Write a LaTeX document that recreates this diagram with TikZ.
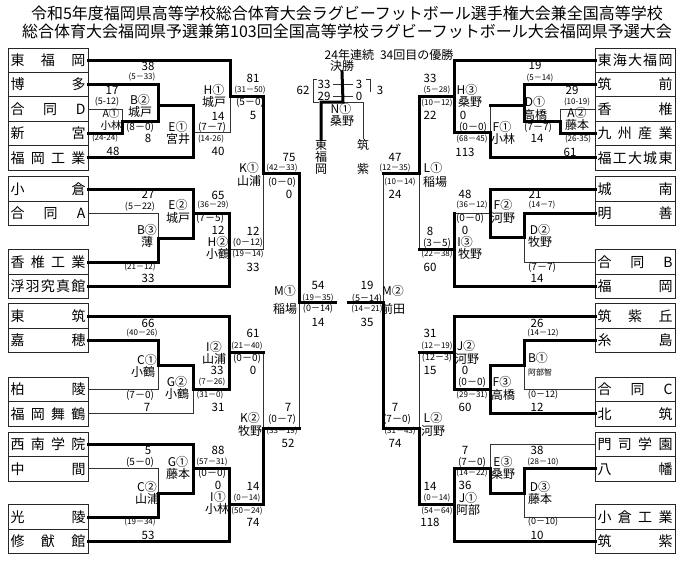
\documentclass[tikz,border=0pt]{standalone}
\usepackage{fontspec}
\setmainfont{Noto Sans CJK JP}
\usetikzlibrary{positioning}

\begin{document}
\begin{tikzpicture}[x=1pt, y=-1pt, node distance=0pt,
team/.style={rectangle, draw=black!85, fill=white, line width=0.9pt, minimum width=80pt, minimum height=24.4pt, inner sep=0pt, outer sep=0pt, font=\fontsize{14}{14}\selectfont},
win/.style={line width=3pt, line cap=rect},
lose/.style={line width=0.9pt, draw=black!80},
sc/.style={inner sep=0pt, font=\fontsize{11.5}{12}\selectfont},
hb/.style={inner sep=0pt, font=\fontsize{10}{10}\selectfont},
hm/.style={inner sep=0pt, font=\fontsize{9}{9}\selectfont},
hs/.style={inner sep=0pt, font=\fontsize{8}{8}\selectfont},
lb/.style={inner sep=0pt, font=\fontsize{12}{12}\selectfont} ]
\useasboundingbox (0,0) rectangle (695,560);

\node[font=\fontsize{16}{18}\selectfont, align=center] (title) at (347,22) {令和5年度福岡県高等学校総合体育大会ラグビーフットボール選手権大会兼全国高等学校\\総合体育大会福岡県予選兼第103回全国高等学校ラグビーフットボール大会福岡県予選大会};

% match points
\coordinate (A1) at (122,121); \coordinate (B2) at (158,105); \coordinate (E1) at (193,132);
\coordinate (H1) at (230,96);  \coordinate (E2) at (193,213); \coordinate (B3) at (158,238);
\coordinate (H2) at (229,249); \coordinate (K1) at (263,173); \coordinate (C1) at (158,365);
\coordinate (G2) at (193,389); \coordinate (I2) at (229,352); \coordinate (G1) at (193,468);
\coordinate (C2) at (158,493); \coordinate (I1) at (229,504); \coordinate (K2) at (263,428);
\coordinate (M1) at (299,302); \coordinate (M1e) at (335,302);
\coordinate (A2) at (560,121); \coordinate (D1) at (524,105); \coordinate (F1) at (490,132);
\coordinate (H3) at (454,96);  \coordinate (F2) at (490,213); \coordinate (D2) at (524,237);
\coordinate (I3) at (454,249); \coordinate (L1) at (419,173); \coordinate (B1) at (524,365);
\coordinate (F3) at (490,389); \coordinate (J2) at (454,352); \coordinate (E3) at (490,468);
\coordinate (D3) at (524,493); \coordinate (J1) at (454,504); \coordinate (L2) at (419,428);
\coordinate (M2) at (383,302); \coordinate (M2e) at (348,302);
\coordinate (N1) at (343,102);

% left teams
\node[team] (l1) at (48,60.2) {\makebox[75pt]{東\hfill 福\hfill 岡}};
\node[team, below=of l1] (l2) {\makebox[75pt]{博\hfill 多}};
\node[team, below=of l2] (l3) {\makebox[75pt]{合\hfill 同\hfill D}};
\node[team, below=of l3] (l4) {\makebox[75pt]{新\hfill 宮}};
\node[team, below=of l4] (l5) {\makebox[75pt]{福\hfill 岡\hfill 工\hfill 業}};
\node[team] (l6) at (48,189) {\makebox[75pt]{小\hfill 倉}};
\node[team, below=of l6] (l7) {\makebox[75pt]{合\hfill 同\hfill A}};
\node[team] (l8) at (48,262) {\makebox[75pt]{香\hfill 椎\hfill 工\hfill 業}};
\node[team, below=of l8] (l9) {\makebox[75pt]{浮\hfill 羽\hfill 究\hfill 真\hfill 館}};
\node[team] (l10) at (48,316) {\makebox[75pt]{東\hfill 筑}};
\node[team, below=of l10] (l11) {\makebox[75pt]{嘉\hfill 穂}};
\node[team] (l12) at (48,389.5) {\makebox[75pt]{柏\hfill 陵}};
\node[team, below=of l12] (l13) {\makebox[75pt]{福\hfill 岡\hfill 舞\hfill 鶴}};
\node[team] (l14) at (48,444.5) {\makebox[75pt]{西\hfill 南\hfill 学\hfill 院}};
\node[team, below=of l14] (l15) {\makebox[75pt]{中\hfill 間}};
\node[team] (l16) at (48,517) {\makebox[75pt]{光\hfill 陵}};
\node[team, below=of l16] (l17) {\makebox[75pt]{修\hfill 猷\hfill 館}};

% right teams
\node[team] (r1) at (635,60.2) {\makebox[75pt]{東\hfill 海\hfill 大\hfill 福\hfill 岡}};
\node[team, below=of r1] (r2) {\makebox[75pt]{筑\hfill 前}};
\node[team, below=of r2] (r3) {\makebox[75pt]{香\hfill 椎}};
\node[team, below=of r3] (r4) {\makebox[75pt]{九\hfill 州\hfill 産\hfill 業}};
\node[team, below=of r4] (r5) {\makebox[75pt]{福\hfill 工\hfill 大\hfill 城\hfill 東}};
\node[team] (r6) at (635,189) {\makebox[75pt]{城\hfill 南}};
\node[team, below=of r6] (r7) {\makebox[75pt]{明\hfill 善}};
\node[team] (r8) at (635,262) {\makebox[75pt]{合\hfill 同\hfill B}};
\node[team, below=of r8] (r9) {\makebox[75pt]{福\hfill 岡}};
\node[team] (r10) at (635,316) {\makebox[75pt]{筑\hfill 紫\hfill 丘}};
\node[team, below=of r10] (r11) {\makebox[75pt]{糸\hfill 島}};
\node[team] (r12) at (635,389.5) {\makebox[75pt]{合\hfill 同\hfill C}};
\node[team, below=of r12] (r13) {\makebox[75pt]{北\hfill 筑}};
\node[team] (r14) at (635,444.5) {\makebox[75pt]{門\hfill 司\hfill 学\hfill 園}};
\node[team, below=of r14] (r15) {\makebox[75pt]{八\hfill 幡}};
\node[team] (r16) at (635,517) {\makebox[75pt]{小\hfill 倉\hfill 工\hfill 業}};
\node[team, below=of r16] (r17) {\makebox[75pt]{筑\hfill 紫}};

% final
\node[lb] (kes) at (342,66) {決勝};
\node[lb] (ren) at (389,55) {24年連続\hspace{6pt}34回目の優勝};
\node[lb, align=center] (fa) at (321,157) {東\\福\\岡};
\node[lb, align=center] (fb) at (363,157) {筑\\[12pt]紫};

% thin lines
\begin{scope}[lose]
\draw (l3.east) -| (A1);  \draw (E1) -| (H1);  \draw (l7.east) -| (B3);
\draw (H2) -| (K1);  \draw (l12.east) -| (C1);  \draw (l13.east) -| (G2);
\draw (I2 -| K2) -- (K2);  \draw (l15.east) -| (C2);  \draw (K2 -| M1) -- (M1);
\draw (r3.west) -| (A2);  \draw (D1 -| F1) -- (F1);  \draw (r8.west) -| (D2);
\draw (F2) -- (F2 -| I3);  \draw (I3 -| L1) -- (L1);  \draw (r12.west) -| (B1);
\draw (r14.west) -| (E3);  \draw (r16.west) -| (D3);  \draw (J2 -| L2) -- (L2);
\draw (L1 -| M2) -- (M2);
\draw (fb.north) -- (fb.north |- N1) -- (N1);
\draw (317,79) -- (313,79) -- (313,102) -- (319,102);
\draw (366,79) -- (370,79) -- (370,92);
\draw (333,84) -- (353,84);  \draw (333,96) -- (353,96);
\end{scope}

% thick lines
\begin{scope}[win]
\draw (l4.east) -| (A1);  \draw (A1) -| (B2);  \draw (l2.east) -| (B2);
\draw (B2) -| (E1);  \draw (l5.east) -| (E1);  \draw (l1.east) -| (H1);
\draw (H1) -| (K1);  \draw (K1) -| (M1);  \draw (M1) -- (M1e);
\draw (l6.east) -| (E2);  \draw (B3) -| (E2);  \draw (l8.east) -| (B3);
\draw (E2) -| (H2);  \draw (l9.east) -| (H2);
\draw (l11.east) -| (C1);  \draw (C1) -| (G2);  \draw (l10.east) -| (I2);
\draw (G2) -| (I2);  \draw (I2) -- (I2 -| K2);
\draw (l14.east) -| (G1);  \draw (C2) -| (G1);  \draw (l16.east) -| (C2);
\draw (G1) -| (I1);  \draw (l17.east) -| (I1);  \draw (I1) -| (K2);
\draw (K2) -- (K2 -| M1);
\draw (r4.west) -| (A2);  \draw (A2) -| (D1);  \draw (r2.west) -| (D1);
\draw (D1) -- (D1 -| F1);  \draw (r5.west) -| (F1);  \draw (F1) -| (H3);
\draw (r1.west) -| (H3);  \draw (H3) -| (L1);  \draw (L1) -- (L1 -| M2);
\draw (r6.west) -| (F2);  \draw (D2) -| (F2);  \draw (r7.west) -| (D2);
\draw (F2 -| I3) -- (I3);  \draw (r9.west) -| (I3);  \draw (I3) -- (I3 -| L1);
\draw (r11.west) -| (B1);  \draw (B1) -| (F3);  \draw (r13.west) -| (F3);
\draw (r10.west) -| (J2);  \draw (F3) -| (J2);  \draw (J2) -- (J2 -| L2);
\draw (r15.west) -| (D3);  \draw (D3) -| (E3);  \draw (E3) -| (J1);
\draw (r17.west) -| (J1);  \draw (J1) -| (L2);  \draw (L2) -| (M2);
\draw (M2) -- (M2e);
\draw (fa.north) -- (fa.north |- N1) -- (N1) -- (kes.south);
\end{scope}

% scores
\foreach \x/\y/\t [count=\i] in {148/66/38, 112/90/17, 148/138/8, 113/151/48, 218/116/14, 218/151/40,
  253/78/81, 253/115/5, 148/194/27, 218/195/65, 218/230/12, 148/278/33, 253/231/12, 253/267/33,
  289/157/75, 289/194/0, 318/285/54, 318/322/14, 148/323/66, 147/407/7, 217/370/33, 218/407/31,
  253/333/61, 253/370/0, 288/407/7, 288/443/52, 148/450/5, 218/450/88, 218/485/0, 148/535/53,
  253/486/14, 253/522/74,
  535/65/19, 572/90/29, 537/138/14, 570/152/61, 463/115/0, 465/152/113, 430/78/33, 430/115/22,
  395/157/47, 395/194/24, 535/194/21, 537/278/14, 465/194/48, 465/230/0, 430/231/8, 430/267/60,
  367/285/19, 367/322/35, 537/323/26, 537/407/12, 465/370/0, 465/407/60, 430/333/31, 430/370/15,
  395/407/7, 395/443/74, 537/450/38, 465/450/7, 465/485/36, 537/535/10, 430/486/14, 430/522/118,
  303/90/62, 380/90/3, 324/84/33, 359/84/3, 324/96/29, 359/96/0}
  \node[sc] (s\i) at (\x,\y) {\t};

% half-time scores
\foreach \x/\y/\t [count=\i] in {140/127/(8－0), 212/127/(7－7), 250/102/(5－0), 210/218/(7－5),
  282/182/(0－0), 140/395/(7－0), 247/358/(0－0), 282/419/(0－7), 140/462/(5－0), 212/473/(0－0),
  538/127/(7－7), 473/127/(0－0), 542/267/(7－7), 470/218/(0－0), 437/243/(3－5), 472/382/(0－0),
  397/419/(7－0), 472/462/(7－0)}
  \node[hb] (hb\i) at (\x,\y) {\t};
\foreach \x/\y/\t [count=\i] in {107/102/(5-12), 140/207/(5－22), 248/243/(0－12), 318/309/(0－14),
  543/395/(0－12), 437/358/(12－3), 543/522/(0－10), 367/299/(5－14)}
  \node[hm] (hm\i) at (\x,\y) {\t};
\foreach \x/\y/\t [count=\i] in {142/77/(5－33), 105/138/(24-24), 211/139/(14-26), 250/90/(31－50),
  213/205/(36－29), 140/267/(21－12), 248/254/(19－14), 282/168/(42－33), 318/298/(19－35),
  142/333/(40－26), 212/382/(7－26), 210/395/(31－0), 247/346/(21－40), 282/431/(33－19),
  212/462/(57－31), 140/522/(19－34), 247/498/(0－14), 247/511/(50－24),
  540/78/(5－14), 577/102/(10-19), 578/139/(26-35), 472/139/(68－45), 437/90/(5－28), 437/103/(10－12),
  395/168/(12－35), 400/182/(10－14), 542/205/(14－7), 472/205/(36－12), 437/254/(22－38),
  367/309/(14－21), 543/333/(14－12), 472/395/(29－31), 437/346/(12－19), 400/431/(31－43),
  543/462/(28－10), 472/473/(14－22), 437/498/(0－14), 437/511/(54－64)}
  \node[hs] (hs\i) at (\x,\y) {\t};

% match labels
\node[inner sep=0pt, font=\fontsize{10.5}{11}\selectfont] (a1n) at (111,114) {A①};
\node[inner sep=0pt, font=\fontsize{10.5}{11}\selectfont] (a1r) at (111,125.5) {小林};
\foreach \x/\y/\t [count=\i] in {140/100/B②, 140/112/城戸, 178/127/E①,
  178/139/宮井, 214/90/H①, 214/102/城戸, 178/205/E②, 178/218/城戸, 147/230/B③, 147/242/薄,
  218/242/H②, 218/254/小鶴, 249/168/K①, 249/181/山浦, 285/291/M①, 285/309/稲場, 147/360/C①,
  143/372/小鶴, 177/382/G②, 177/394/小鶴, 214/347/I②, 214/359/山浦, 250/418/K②, 250/431/牧野,
  178/462/G①, 178/474/藤本, 147/487/C②, 147/499/山浦, 218/497/I①, 217/509/小林,
  535/102/D①, 535/115/高橋, 577/113/A②, 577/125/藤本, 502/127/F①, 503/139/小林, 467/90/H③,
  470/102/桑野, 433/168/L①, 435/182/稲場, 503/205/F②, 503/218/河野, 540/230/D②, 540/242/牧野,
  465/242/I③, 470/254/牧野, 393/291/M②, 393/309/前田, 538/358/B①, 502/382/F③, 503/395/高橋,
  466/346/J②, 467/359/河野, 433/418/L②, 433/431/河野, 503/462/E③, 503/474/桑野, 540/487/D③,
  540/499/藤本, 468/498/J①, 468/510/阿部, 341/109/N①, 342/121/桑野}
  \node[lb] (m\i) at (\x,\y) {\t};
\node[inner sep=0pt, font=\fontsize{8}{9}\selectfont] (ref) at (540,372) {阿部智};
\end{tikzpicture}
\end{document}
